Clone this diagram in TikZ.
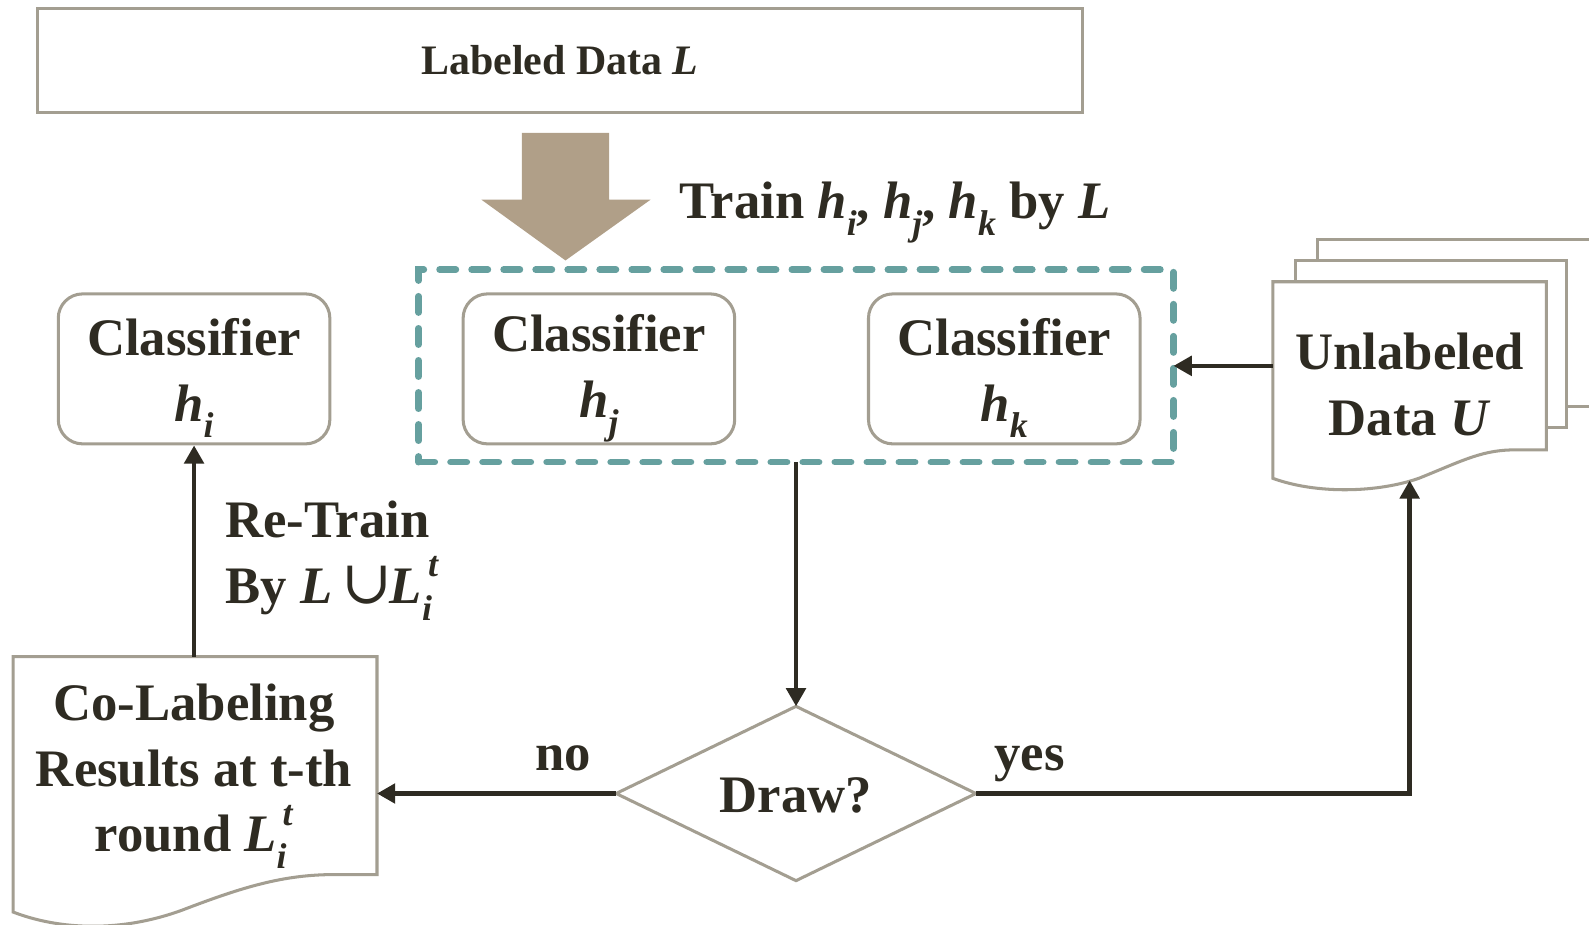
\documentclass[tikz,border=0pt]{standalone}
\usepackage{fontspec}
\setmainfont{Liberation Serif}
\newfontfamily\symfont{DejaVu Serif}
\usetikzlibrary{shapes.geometric,arrows.meta}

\definecolor{ink}{HTML}{2E2B22}
\definecolor{edgegray}{HTML}{A39E91}
\definecolor{sand}{HTML}{B09F88}
\definecolor{dashteal}{HTML}{66A09F}

\makeatletter
\newcommand\smallsz{\fontsize{\strip@pt\dimexpr\f@size pt*68/100\relax}{0pt}\selectfont}
\makeatother
% variable with an italic subscript
\newcommand\sbs[2]{\textit{#1}\raisebox{-0.32em}{\smallsz\textit{#2}}}
% L with subscript i and superscript t
\newcommand\Lit{\textit{L}\rlap{\raisebox{-0.32em}{\smallsz\textit{i}}}\raisebox{0.5em}{\smallsz\,\textit{t}}}
% union sign
\newcommand\bigunion{{\symfont\mdseries\upshape\fontsize{30}{30}\selectfont ∪}}

\tikzset{
  txt/.style={text=ink, font=\fontsize{26}{32.5}\selectfont\bfseries, align=center, inner sep=0pt},
  clsbox/.style={draw=edgegray, line width=1.5pt, rounded corners=12pt, fill=white,
                 minimum width=134pt, minimum height=74pt, inner sep=0pt},
  page/.style={draw=edgegray, line width=1.5pt, fill=white},
  conn/.style={draw=ink, line width=2.3pt, -{Triangle[length=9pt,width=9.5pt]}},
  hold/.style={inner sep=0pt, outer sep=0pt}
}

\begin{document}
\begin{tikzpicture}[x=0.5pt,y=-0.5pt]
\clip (0,0) rectangle (1568,912);

% top data box
\node[txt, draw=edgegray, line width=1.5pt, minimum width=515.5pt, minimum height=51.5pt,
      font=\fontsize{20.7}{24}\selectfont\bfseries] (lab) at (552.5,59.5) {Labeled Data \textit{L}};

% block arrow
\fill[sand] (515,131) -- (601,131) -- (601,197) -- (642,197) -- (558,257) -- (475,197) -- (515,197) -- cycle;

\node[txt, anchor=west] (train) at (670,210) {Train \sbs{h}{i}, \sbs{h}{j}, \sbs{h}{k} by \textit{L}};

% group of classifiers
\node[hold, draw=dashteal, line width=3.3pt, dash pattern=on 8pt off 7.8pt, line cap=round,
      minimum width=372.5pt, minimum height=95pt] (grp) at (785.5,361) {};

\node[clsbox] (hi) at (191.5,364) {};
\node[clsbox] (hj) at (591,364) {};
\node[clsbox] (hk) at (991,364) {};
\node[txt] (hitxt) at (191.5,373) {Classifier\\\sbs{h}{i}};
\node[txt] (hjtxt) at (591,373) {Classifier\\\sbs{h}{j}};
\node[txt] (hktxt) at (991,373) {Classifier\\\sbs{h}{k}};

% stacked unlabeled data pages
\filldraw[page] (1300,236) rectangle (1600,401);
\filldraw[page] (1278,257) rectangle (1546,422);
\node[hold, minimum width=135pt, minimum height=83pt] (unl) at (1391,361) {};
\filldraw[page] (unl.north west) -- (unl.north east) -- (unl.south east) -- (1490,444)
  .. controls (1460,445) and (1440,456) .. (1400,472)
  .. controls (1360,486) and (1300,488) .. (1256,472) -- cycle;
\node[txt] (unltxt) at (1391,379) {Unlabeled\\Data \textit{U}};
\coordinate (unlS) at (1391,474);

% co-labeling results document
\node[hold, minimum width=179.5pt, minimum height=107.5pt] (colab) at (192.5,755.5) {};
\filldraw[page] (colab.north west) -- (colab.north east) -- (colab.south east) -- (330,863)
  .. controls (280,863) and (240,875) .. (180,898)
  .. controls (120,920) and (60,918) .. (13,900) -- cycle;
\node[txt] (colabtxt) at (191.5,766) {Co-Labeling\\Results at t-th\\round \Lit};

% decision
\node[hold, shape=diamond, draw=edgegray, line width=1.5pt, minimum width=177.5pt,
      minimum height=86pt] (dia) at (785.5,783) {};
\node[txt] (diatxt) at (785.5,785) {Draw?};

\node[txt, anchor=base] (no) at (556,760) {no};
\node[txt, anchor=base] (yes) at (1016,760) {yes};
\node[txt, anchor=west, align=left] (retrain) at (222,553) {Re-Train\\By \textit{L}\,\bigunion\kern-1pt\Lit};

% connectors
\draw[conn] (hi.south |- colab.north) -- (hi.south);
\draw[conn] (grp.south) -- (dia.north);
\draw[conn] (dia.west) -- (dia.west -| colab.east);
\draw[conn] (dia.east) -| (unlS);
\draw[conn] (unl.west) -- (grp.east);
\end{tikzpicture}
\end{document}
